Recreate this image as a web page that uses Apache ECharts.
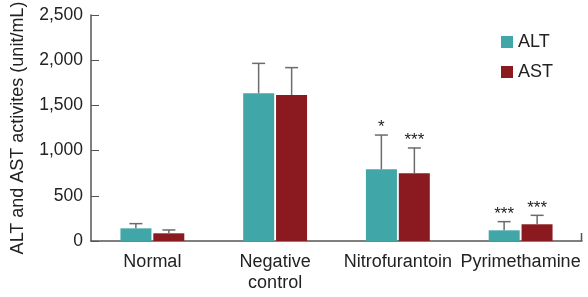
<!DOCTYPE html>
<html><head><meta charset="utf-8">
<script src="https://cdn.jsdelivr.net/npm/echarts@6/dist/echarts.min.js"></script>
<style>html,body{margin:0;padding:0;background:#fff}#c{width:588px;height:297px}</style>
</head><body><div id="c"></div>
<script>
const categories = ['Normal', 'Negative\ncontrol', 'Nitrofurantoin', 'Pyrimethamine'];
const altValues = [140, 1635, 795, 118];
const astValues = [85, 1615, 750, 185];
const altErrTop = [192, 1965, 1172, 214];
const astErrTop = [122, 1918, 1029, 284];
const altSig = ['', '', '*', '***'];
const astSig = ['', '', '***', '***'];
const yTicks = [0, 500, 1000, 1500, 2000, 2500];

const ALT_COLOR = '#41a6a8';
const AST_COLOR = '#8a1a1f';
const FONT = 'Liberation Sans, Arial, sans-serif';
const BAR_W = 31, HALF_OFF = 16.5;

function errRender(values, tops, sigs, side) {
  return function (params, api) {
    const i = params.dataIndex;
    const b = api.coord([i, values[i]]);
    const t = api.coord([i, tops[i]]);
    const x = b[0] + side * HALF_OFF;
    const children = [
      {type: 'line', shape: {x1: x, y1: b[1], x2: x, y2: t[1]}, style: {stroke: '#6b6b6b', lineWidth: 1.5}},
      {type: 'line', shape: {x1: x - 6.5, y1: t[1], x2: x + 6.5, y2: t[1]}, style: {stroke: '#6b6b6b', lineWidth: 1.5}}
    ];
    if (sigs[i]) {
      children.push({type: 'text', style: {text: sigs[i], x: x, y: t[1] + 1, textAlign: 'center', textVerticalAlign: 'bottom', fill: '#222', font: '17px ' + FONT}});
    }
    return {type: 'group', children: children};
  };
}

const chart = echarts.init(document.getElementById('c'));
chart.setOption({
  animation: false,
  grid: {left: 91, right: 6, top: 15, bottom: 56, containLabel: false, outerBoundsMode: 'none'},
  legend: {
    orient: 'vertical', left: 496, top: 28, itemWidth: 12, itemHeight: 12, itemGap: 12,
    icon: 'rect', data: ['ALT', 'AST'],
    textStyle: {fontFamily: FONT, fontSize: 18, color: '#222', padding: [0, 0, 0, 0]}
  },
  xAxis: {
    type: 'category', data: categories,
    axisLine: {lineStyle: {color: '#555', width: 1.5}},
    axisTick: {show: false},
    axisLabel: {fontFamily: FONT, fontSize: 18, color: '#222', margin: 11, lineHeight: 21, interval: 0}
  },
  yAxis: {
    type: 'value', min: 0, max: 2500, interval: 500,
    name: 'ALT and AST activites (unit/mL)', nameLocation: 'middle', nameGap: 64,
    nameTextStyle: {fontFamily: FONT, fontSize: 18, color: '#222'},
    axisLine: {show: true, lineStyle: {color: '#555', width: 1.5}},
    axisTick: {show: true, inside: true, length: 8, lineStyle: {color: '#555'}},
    splitLine: {show: false},
    axisLabel: {fontFamily: FONT, fontSize: 17.5, color: '#222', margin: 8,
      formatter: v => yTicks.includes(v) ? v.toLocaleString('en-US') : ''}
  },
  series: [
    {name: 'ALT', type: 'bar', data: altValues, barWidth: BAR_W, barGap: '6%', itemStyle: {color: ALT_COLOR}},
    {name: 'AST', type: 'bar', data: astValues, barWidth: BAR_W, barGap: '6%', itemStyle: {color: AST_COLOR}},
    {type: 'custom', data: altValues, renderItem: errRender(altValues, altErrTop, altSig, -1), z: 3, silent: true},
    {type: 'custom', data: astValues, renderItem: errRender(astValues, astErrTop, astSig, 1), z: 3, silent: true}
  ],
  graphic: [{type: 'line', shape: {x1: 581.5, y1: 233, x2: 581.5, y2: 241}, style: {stroke: '#555', lineWidth: 1.5}}]
});
</script></body></html>
